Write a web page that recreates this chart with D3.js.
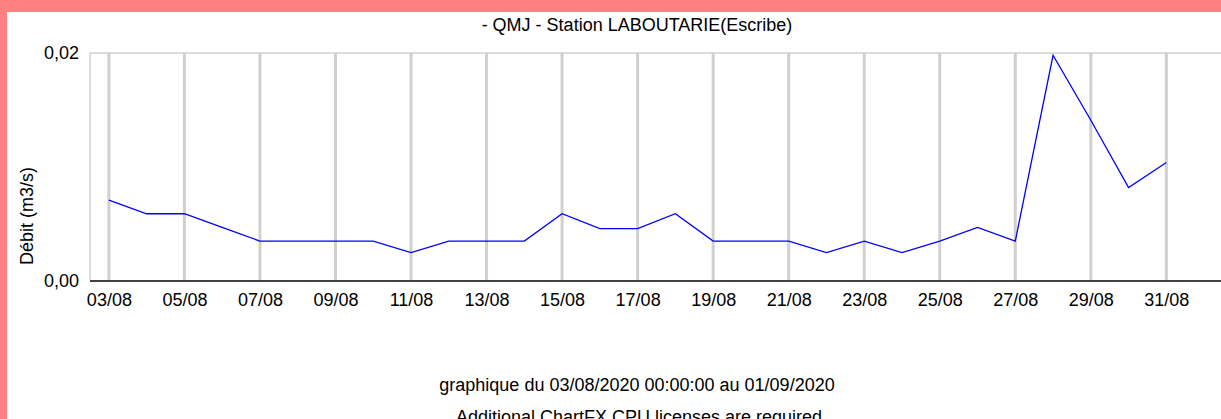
<!DOCTYPE html>
<html><head><meta charset="utf-8">
<script src="https://cdn.jsdelivr.net/npm/d3@7"></script>
<style>
html,body{margin:0;padding:0;background:#fff;overflow:hidden;}
svg{display:block;font-family:"Liberation Sans",Arial,sans-serif;}
</style></head>
<body>
<svg id="chart" width="1221" height="419"></svg>
<script>
const title = "- QMJ - Station LABOUTARIE(Escribe)";
const yTitle = "Débit (m3/s)";
const footer1 = "graphique du 03/08/2020 00:00:00 au 01/09/2020";
const footer2 = "Additional ChartFX CPU licenses are required";
const dates = ["2020-08-03","2020-08-04","2020-08-05","2020-08-06","2020-08-07","2020-08-08","2020-08-09","2020-08-10","2020-08-11","2020-08-12","2020-08-13","2020-08-14","2020-08-15","2020-08-16","2020-08-17","2020-08-18","2020-08-19","2020-08-20","2020-08-21","2020-08-22","2020-08-23","2020-08-24","2020-08-25","2020-08-26","2020-08-27","2020-08-28","2020-08-29","2020-08-30","2020-08-31"];
const values = [0.0071,0.0059,0.0059,0.0047,0.0035,0.0035,0.0035,0.0035,0.0025,0.0035,0.0035,0.0035,0.0059,0.0046,0.0046,0.0059,0.0035,0.0035,0.0035,0.0025,0.0035,0.0025,0.0035,0.0047,0.0035,0.0198,0.0141,0.0082,0.0104];
const xTickDates = ["2020-08-03","2020-08-05","2020-08-07","2020-08-09","2020-08-11","2020-08-13","2020-08-15","2020-08-17","2020-08-19","2020-08-21","2020-08-23","2020-08-25","2020-08-27","2020-08-29","2020-08-31"];
const yTicks = [0, 0.02];
const xDomain = ["2020-08-02T12:00:00","2020-09-01T12:00:00"];

(function(){
const parse = d3.isoParse;
const svg = d3.select("#chart");
const W = 1221, H = 419;
const mL = 90, mT = 53, mB = 281, mR = 1223;
const FF = "Liberation Sans, Arial, sans-serif";

svg.append("rect").attr("width", W).attr("height", H).attr("fill", "#ff8080");
svg.append("rect").attr("x", 7).attr("y", 12).attr("width", W).attr("height", H).attr("fill", "#fff");

const x = d3.scaleTime().domain(xDomain.map(parse)).range([mL, mR]);
const y = d3.scaleLinear().domain([0, 0.02]).range([mB, mT]);

// frame
svg.append("line").attr("x1", mL).attr("x2", mR).attr("y1", mT).attr("y2", mT)
  .attr("stroke", "#dcdcdc").attr("stroke-width", 2);
svg.append("line").attr("x1", mL).attr("x2", mL).attr("y1", mT).attr("y2", mB)
  .attr("stroke", "#dcdcdc").attr("stroke-width", 2);

// vertical gridlines
svg.append("g").selectAll("line").data(xTickDates).join("line")
  .attr("x1", d => x(parse(d))).attr("x2", d => x(parse(d)))
  .attr("y1", mT).attr("y2", mB)
  .attr("stroke", "#d0d0d0").attr("stroke-width", 3);

// x axis
const fmtX = d3.timeFormat("%d/%m");
const xAxis = d3.axisBottom(x).tickValues(xTickDates.map(parse)).tickFormat(fmtX).tickSize(0).tickPadding(12);
const gx = svg.append("g").attr("transform", `translate(0,${mB})`).call(xAxis);
gx.select(".domain").remove();
gx.selectAll("text").attr("font-size", 18).attr("font-family", FF).attr("fill", "#000");
svg.append("line").attr("x1", mL).attr("x2", mR).attr("y1", mB).attr("y2", mB)
  .attr("stroke", "#404040").attr("stroke-width", 2);

// y axis
const fmtY = v => d3.format(".2f")(v).replace(".", ",");
const yAxis = d3.axisLeft(y).tickValues(yTicks).tickFormat(fmtY).tickSize(0).tickPadding(11);
const gy = svg.append("g").attr("transform", `translate(${mL},0)`).call(yAxis);
gy.select(".domain").remove();
gy.selectAll("text").attr("font-size", 18).attr("font-family", FF).attr("fill", "#000");

// line
const line = d3.line().x((d, i) => x(parse(dates[i]))).y(d => y(d));
svg.append("path").datum(values).attr("d", line)
  .attr("fill", "none").attr("stroke", "#0000ff").attr("stroke-width", 1.3);

// texts
svg.append("text").attr("x", 637).attr("y", 31).attr("text-anchor", "middle")
  .attr("font-size", 18).attr("fill", "#000").text(title);
svg.append("text").attr("transform", "translate(33,216) rotate(-90)").attr("text-anchor", "middle")
  .attr("font-size", 18).attr("fill", "#000").text(yTitle);
svg.append("text").attr("x", 637).attr("y", 391).attr("text-anchor", "middle")
  .attr("font-size", 18).attr("fill", "#000").text(footer1);
svg.append("text").attr("x", 639).attr("y", 423).attr("text-anchor", "middle")
  .attr("font-size", 18).attr("fill", "#000").text(footer2);
})();
</script>
</body></html>
